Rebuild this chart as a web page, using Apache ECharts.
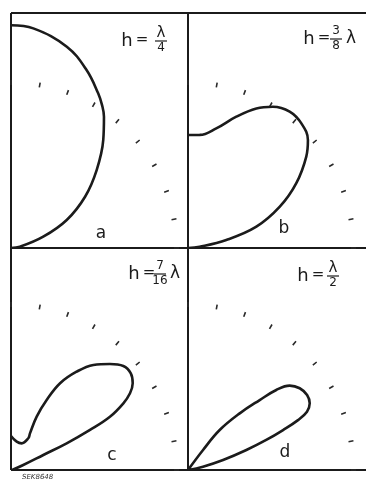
<!DOCTYPE html>
<html>
<head>
<meta charset="utf-8">
<script src="https://cdn.jsdelivr.net/npm/echarts@6/dist/echarts.min.js"></script>
<style>
  html, body { margin: 0; padding: 0; background: #fff; }
  #chart { width: 366px; height: 480px; }
</style>
</head>
<body>
<div id="chart"></div>
<script>
// angle measured from the vertical (degrees), radius in tick-circle units
var thetaA = [0, 5.8, 15.5, 23, 29.4, 32.5, 35.3, 40.5, 47.7, 55.3, 63.3, 70.7, 81.8, 90];
var radA = [1.35, 1.338, 1.266, 1.172, 1.076, 1.027, 0.975, 0.861, 0.702, 0.546, 0.378, 0.207, 0.055, 0];

var thetaB = [0, 5.9, 13.3, 20.2, 26.1, 31.0, 36.7, 42.3, 48.0, 52.3, 59.1, 65.8, 72.7, 78.2, 83.7, 90];
var radB = [0.685, 0.689, 0.745, 0.848, 0.942, 0.999, 1.031, 1.021, 0.978, 0.906, 0.765, 0.610, 0.434, 0.237, 0.071, 0];

var thetaC = [0, 11.4, 21.8, 28.6, 27.4, 25.7, 27.0, 29.5, 33.7, 38.1, 43.0, 47.2, 51.1, 54.5, 57.2, 59.3, 61.7, 63.1, 64.4, 65.1, 67.9, 80, 90];
var radC = [0.206, 0.175, 0.174, 0.219, 0.250, 0.359, 0.476, 0.604, 0.716, 0.809, 0.879, 0.928, 0.933, 0.906, 0.858, 0.792, 0.681, 0.537, 0.374, 0.216, 0.080, 0.01, 0];

var thetaD = [35, 36.9, 38.4, 42.4, 45.7, 47.8, 50.3, 53.8, 57.8, 61.3, 63.9, 65.6, 67.2, 69.0, 71.1, 74.1, 77.6, 90];
var radD = [0, 0.152, 0.309, 0.465, 0.607, 0.722, 0.801, 0.839, 0.853, 0.841, 0.803, 0.732, 0.625, 0.508, 0.374, 0.221, 0.093, 0];

var panelNames = ['a', 'b', 'c', 'd'];
var hNum = ['λ', '3', '7', 'λ'];
var hDen = ['4', '8', '16', '2'];
var hTail = ['', 'λ', 'λ', ''];

var thetas = [thetaA, thetaB, thetaC, thetaD];
var rads = [radA, radB, radC, radD];

// panel origins (bottom-left corners)
var origins = [[11, 248], [188, 248], [11, 470], [188, 470]];
var ink = '#1b1b1b';
var unitPx = 165;   // one radius unit = tick circle
var curveR = 230;   // outer radius of the curve polar

var chart = echarts.init(document.getElementById('chart'));

var polar = [], angleAxis = [], radiusAxis = [], series = [];
function hiddenRadius(idx, max) {
  return {
    polarIndex: idx, type: 'value', min: 0, max: max,
    axisLine: { show: false }, axisTick: { show: false },
    axisLabel: { show: false }, splitLine: { show: false }
  };
}
function quarterAngle(idx, showTicks) {
  return {
    polarIndex: idx, type: 'value', min: 0, max: 90, interval: 10,
    startAngle: 90, endAngle: 0, clockwise: true,
    axisLine: { show: false }, splitLine: { show: false }, axisLabel: { show: false },
    axisTick: { show: showTicks, length: 5, lineStyle: { color: '#2a2a2a', width: 1.6 } }
  };
}

for (var i = 0; i < 4; i++) {
  // curve polar
  polar.push({ center: origins[i], radius: curveR });
  angleAxis.push(quarterAngle(2 * i, false));
  radiusAxis.push(hiddenRadius(2 * i, curveR / unitPx));
  // tick polar (10 degree marks)
  polar.push({ center: origins[i], radius: unitPx - 2 });
  angleAxis.push(quarterAngle(2 * i + 1, true));
  radiusAxis.push(hiddenRadius(2 * i + 1, 1));

  series.push({
    type: 'line',
    coordinateSystem: 'polar',
    polarIndex: 2 * i,
    data: rads[i].map(function (r, k) { return [r, thetas[i][k]]; }),
    symbol: 'none',
    smooth: 0.4,
    clip: false,
    lineStyle: { color: ink, width: 2.6 }
  });
}

// frame and labels
var graphic = [
  { type: 'line', shape: { x1: 11, y1: 13, x2: 366, y2: 13 }, style: { stroke: ink, lineWidth: 2 } },
  { type: 'line', shape: { x1: 11, y1: 248, x2: 366, y2: 248 }, style: { stroke: ink, lineWidth: 2 } },
  { type: 'line', shape: { x1: 11, y1: 470, x2: 366, y2: 470 }, style: { stroke: ink, lineWidth: 2 } },
  { type: 'line', shape: { x1: 11, y1: 13, x2: 11, y2: 470 }, style: { stroke: ink, lineWidth: 2 } },
  { type: 'line', shape: { x1: 188, y1: 12, x2: 188, y2: 470 }, style: { stroke: ink, lineWidth: 2 } },
  { type: 'text', x: 22, y: 477, style: { text: 'SEK8648', font: 'italic 7px "DejaVu Sans"', fill: '#333', textVerticalAlign: 'middle' } }
];

var letterPos = [[101, 234], [284, 229], [112, 456], [285, 453]];
// h = ... label: x of "h", x of fraction centre, fraction bar y
var hLabel = [[127, 161, 41], [309, 336, 39], [134, 160, 274], [303, 333, 276]];

for (var j = 0; j < 4; j++) {
  var hx = hLabel[j][0], fx = hLabel[j][1], by = hLabel[j][2];
  graphic.push({ type: 'text', x: letterPos[j][0], y: letterPos[j][1],
    style: { text: panelNames[j], font: '17px "DejaVu Sans"', fill: ink, textAlign: 'center', textVerticalAlign: 'middle' } });
  graphic.push({ type: 'text', x: hx, y: by,
    style: { text: 'h', font: '18px "DejaVu Sans"', fill: ink, textAlign: 'center', textVerticalAlign: 'middle' } });
  graphic.push({ type: 'text', x: hx + 15, y: by - 1,
    style: { text: '=', font: '15px "DejaVu Sans"', fill: ink, textAlign: 'center', textVerticalAlign: 'middle' } });
  graphic.push({ type: 'text', x: fx, y: by - 8,
    style: { text: hNum[j], font: (hNum[j] === 'λ' ? '15px' : '12px') + ' "DejaVu Sans"', fill: ink, textAlign: 'center', textVerticalAlign: 'middle' } });
  graphic.push({ type: 'line', shape: { x1: fx - 6, y1: by, x2: fx + 6, y2: by }, style: { stroke: ink, lineWidth: 1.2 } });
  graphic.push({ type: 'text', x: fx, y: by + 7,
    style: { text: hDen[j], font: '12px "DejaVu Sans"', fill: ink, textAlign: 'center', textVerticalAlign: 'middle' } });
  if (hTail[j]) {
    graphic.push({ type: 'text', x: fx + 15, y: by,
      style: { text: hTail[j], font: '17px "DejaVu Sans"', fill: ink, textAlign: 'center', textVerticalAlign: 'middle' } });
  }
}

chart.setOption({
  backgroundColor: '#fff',
  animation: false,
  polar: polar,
  angleAxis: angleAxis,
  radiusAxis: radiusAxis,
  series: series,
  graphic: graphic
});
</script>
</body>
</html>
